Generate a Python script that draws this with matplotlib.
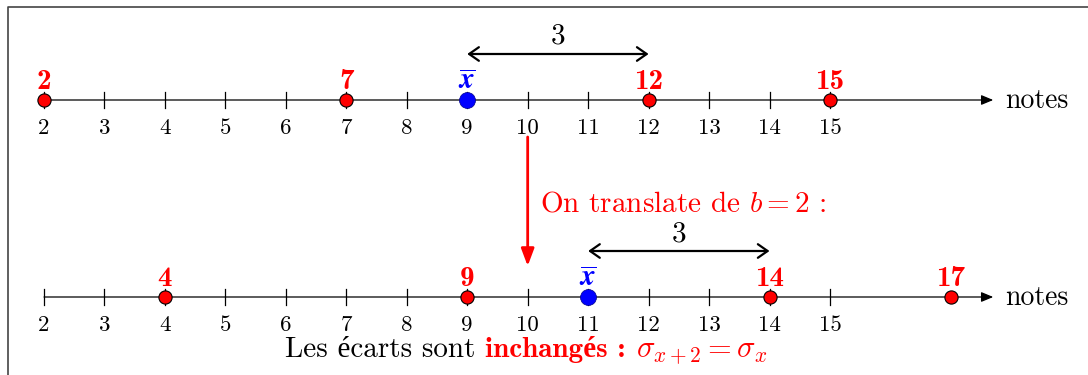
import matplotlib
matplotlib.use("Agg")
import matplotlib.pyplot as plt

plt.rcParams["mathtext.fontset"] = "cm"
plt.rcParams["font.family"] = "serif"
plt.rcParams["font.serif"] = ["cmr10"]
plt.rcParams["axes.formatter.use_mathtext"] = True

# data
ticks = list(range(2, 16))
notes_avant = [2, 7, 12, 15]
notes_apres = [4, 9, 14, 17]
moy_avant = 9
moy_apres = 11
b = 2
ecart = 3

# layout (pixel-like units on y, notes on x)
PX = 60.46
Y_TOP = 100
Y_BOT = 297
X_END = 17.7

fig = plt.figure(figsize=(10.88, 3.75), dpi=100)
ax = fig.add_axes([0, 0, 1, 1])
ax.set_xlim(2 - 44 / PX, 2 + (1088 - 44) / PX)
ax.set_ylim(375, 0)
ax.axis("off")

# frame (clipped by the image on the right and bottom)
ax.plot([8 / 1088, 8 / 1088, 1], [0, 1 - 7 / 375, 1 - 7 / 375],
        transform=ax.transAxes, color="#444444", lw=1.2, clip_on=False)


def draw_line(y, values, mean):
    ax.annotate("", xy=(X_END, y), xytext=(2, y),
                arrowprops=dict(arrowstyle="-|>,head_length=0.6,head_width=0.25",
                                mutation_scale=12, color="black", lw=0.9,
                                shrinkA=0, shrinkB=0))
    for t in ticks:
        ax.plot([t, t], [y - 8, y + 8], color="black", lw=0.9)
        ax.text(t, y + 34, str(t), ha="center", va="baseline", fontsize=16.5)
    ax.plot(values, [y] * len(values), "o", ms=9.5, mfc="red", mec="black",
            mew=0.8, zorder=5)
    for v in values:
        ax.text(v, y - 11, str(v), family="cmb10", color="red", fontsize=21,
                ha="center", va="baseline")
    ax.plot([mean], [y], "o", ms=11.5, mfc="blue", mec="#00008b", mew=0.5,
            zorder=5)
    ax.text(mean, y - 11, r"$\overline{\mathbfit{x}}$", color="blue",
            fontsize=21, ha="center", va="baseline")
    ax.annotate("", xy=(mean + ecart, y - 46), xytext=(mean, y - 46),
                arrowprops=dict(arrowstyle="<->,head_length=0.5,head_width=0.35",
                                mutation_scale=14, color="black", lw=1.6,
                                shrinkA=0, shrinkB=0))
    ax.text(mean + ecart / 2, y - 56, str(ecart), fontsize=21, ha="center",
            va="baseline")
    ax.text(2 + (1005 - 44) / PX, y + 8, "notes", fontsize=20, ha="left",
            va="baseline")


draw_line(Y_TOP, notes_avant, moy_avant)
draw_line(Y_BOT, notes_apres, moy_apres)

# translation arrow
ax.annotate("", xy=(10, 266), xytext=(10, 137),
            arrowprops=dict(arrowstyle="-|>,head_length=0.8,head_width=0.3",
                            mutation_scale=13, color="red", lw=2,
                            shrinkA=0, shrinkB=0))
ax.text(2 + (540 - 44) / PX, 212, r"On translate de $b=%d$ :" % b,
        color="red", fontsize=21, ha="left", va="baseline")

# bottom sentence, built piece by piece (é taken from a fallback serif)
pieces = [
    ("Les écarts sont", "black", {"family": ["cmr10", "Liberation Serif"]}),
    ("inchangés :", "red", {"family": ["cmb10", "Liberation Serif"],
                            "weight": "bold"}),
    (r"$\sigma_{x+%d}=\sigma_x$" % b, "red", {"fontsize": 22}),
]
gaps = [10, 10, 0]
renderer = fig.canvas.get_renderer()
x = 2 + (285 - 44) / PX
for (txt, col, kw), gap in zip(pieces, gaps):
    kw = {"fontsize": 21, **kw}
    t = ax.text(x, 357, txt, color=col, ha="left", va="baseline", **kw)
    bb = t.get_window_extent(renderer=renderer)
    x = ax.transData.inverted().transform((bb.x1 + gap, 0))[0]

fig.savefig("out.png", dpi=100)
